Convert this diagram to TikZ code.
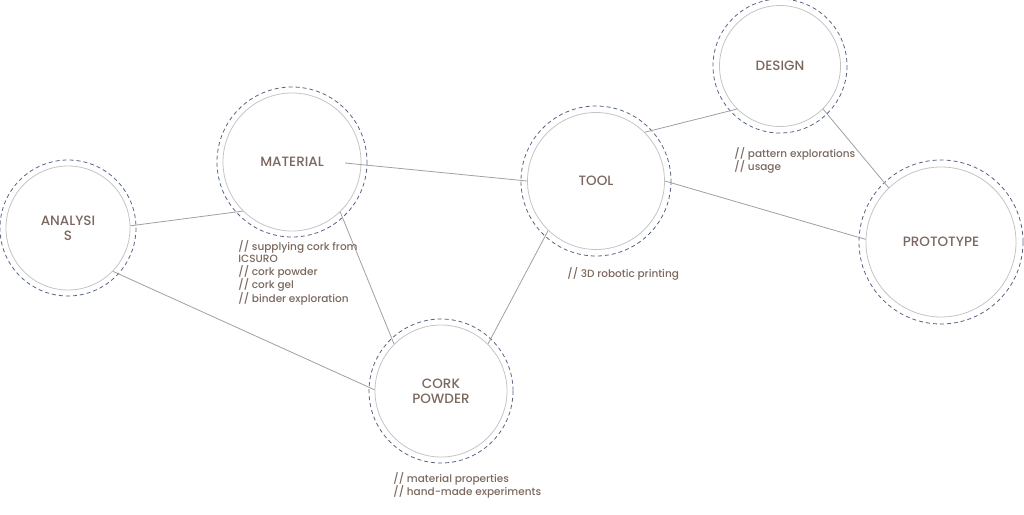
\documentclass[tikz,border=0pt]{standalone}
\usepackage{fontspec}
\setmainfont{Poppins Medium}
\definecolor{txtbrown}{RGB}{122,104,94}
\definecolor{ringblue}{RGB}{86,100,132}
\definecolor{linegray}{RGB}{160,160,160}
\definecolor{circgray}{RGB}{196,196,196}
\begin{document}
\begin{tikzpicture}[x=1pt,y=-1pt,
  stage/.style={circle,draw=circgray,line width=.8pt,inner sep=0pt,align=center,
    text=txtbrown,font=\fontsize{13.5}{15}\selectfont},
  ring/.style={draw=ringblue,line width=.8pt,dash pattern=on 4pt off 3pt},
  link/.style={draw=linegray,line width=.8pt},
  note/.style={anchor=north west,align=left,inner sep=0pt,text=txtbrown,
    font=\fontsize{10.5}{12.5}\selectfont}]
\useasboundingbox (0,0) rectangle (1024,514);
\pgfsetlinewidth{.8pt}
% stages
\node[stage,minimum size=124pt] (ana) at (68,228) {ANALYSI\\S};
\node[stage,minimum size=138pt] (mat) at (292,162) {MATERIAL};
\node[stage,minimum size=132pt] (cork) at (441,391) {CORK\\POWDER};
\node[stage,minimum size=137pt] (tool) at (596,181) {TOOL};
\node[stage,minimum size=121pt] (des) at (780,66) {DESIGN};
\node[stage,minimum size=150pt] (proto) at (941,242) {PROTOTYPE};
\draw[ring] (ana.center) circle (68);
\draw[ring] (mat.center) circle (75);
\draw[ring] (cork.center) circle (72);
\draw[ring] (tool.center) circle (75);
\draw[ring] (des.center) circle (67);
\draw[ring] (proto.center) circle (82);
% links
\coordinate (matx) at (345,163);
\draw[link] (ana.2) -- (mat.-135);
\draw[link] (ana.-44) -- (cork.179);
\draw[link] (mat.-46) -- (cork.135);
\draw[link] (matx) -- (tool.180);
\draw[link] (tool.-134) -- (cork.45);
\draw[link] (tool.45) -- (des.-135);
\draw[link] (tool.0) -- (proto.178);
\draw[link] (des.-45) -- (proto.134);
% notes
\node[note] (matnote) at (238,240) {// supplying cork from\\ICSURO\\// cork powder\\// cork gel\\// binder exploration};
\node[note] (corknote) at (393,472) {// material properties\\// hand-made experiments};
\node[note] (toolnote) at (567,267) {// 3D robotic printing};
\node[note] (desnote) at (734,147) {// pattern explorations\\// usage};
\end{tikzpicture}
\end{document}
